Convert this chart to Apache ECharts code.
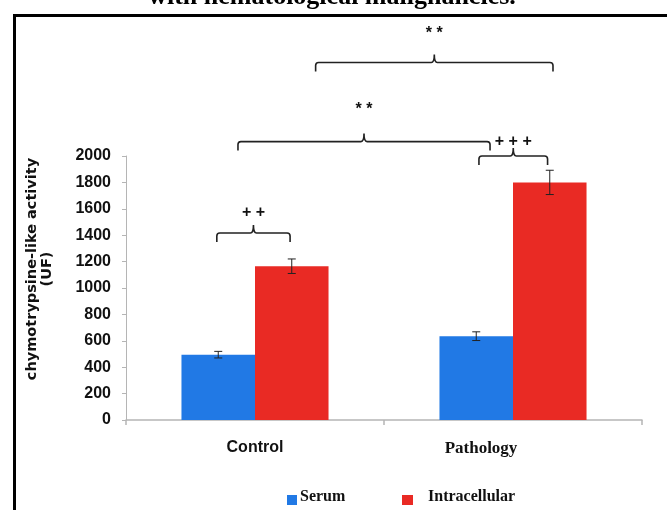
<!DOCTYPE html>
<html>
<head>
<meta charset="utf-8">
<script src="https://cdn.jsdelivr.net/npm/echarts@6/dist/echarts.min.js"></script>
<style>
  html, body { margin: 0; padding: 0; background: #fff; }
  #chart { width: 667px; height: 510px; }
</style>
</head>
<body>
<div id="chart"></div>
<script>
// groups and measured values
const categories = ["Control", "Pathology"];
const serumValues = [495, 635];
const serumErrors = [25, 33];
const intracellularValues = [1165, 1800];
const intracellularErrors = [55, 92];
const yTicks = { min: 0, max: 2000, interval: 200 };

// significance brackets (x in category units, y in activity units)
const bracketStart = [-0.148, 0.868, -0.066, 0.235];
const bracketEnd = [0.136, 1.134, 0.911, 1.155];
const bracketLevel = [1417, 2000, 2109, 2708];
const bracketLabelLevel = [1568, 2106, 2348, 2924];
const bracketMarks = ["+ +", "+ + +", "* *", "* *"];

const BLUE = "#2179e5";
const RED = "#e92a24";
const CAT_GAP = 0.43;

const chart = echarts.init(document.getElementById("chart"), null, { renderer: "canvas" });

function errorBars(values, errors, side) {
  return {
    type: "custom",
    xAxisIndex: 0,
    yAxisIndex: 0,
    silent: true,
    z: 5,
    data: values.map((v, i) => [i, v, errors[i]]),
    renderItem: function (params, api) {
      const catW = api.size([1, 0])[0];
      const barW = catW * (1 - CAT_GAP) / 2;
      const p = api.coord([api.value(0), api.value(1)]);
      const x = p[0] + side * barW / 2;
      const top = api.coord([api.value(0), api.value(1) + api.value(2)])[1];
      const bot = api.coord([api.value(0), api.value(1) - api.value(2)])[1];
      const cap = 4;
      const st = { stroke: "#222", lineWidth: 1 };
      return {
        type: "group",
        children: [
          { type: "line", shape: { x1: x, y1: top, x2: x, y2: bot }, style: st },
          { type: "line", shape: { x1: x - cap, y1: top, x2: x + cap, y2: top }, style: st },
          { type: "line", shape: { x1: x - cap, y1: bot, x2: x + cap, y2: bot }, style: st }
        ]
      };
    }
  };
}

const legendText = {
  fontFamily: "Liberation Serif", fontWeight: "bold", fontSize: 16, color: "#111"
};

const option = {
  animation: false,
  backgroundColor: "#fff",
  grid: { left: 126, right: 25, top: 156, bottom: 90, containLabel: false },
  xAxis: [
    {
      type: "category",
      data: categories,
      axisLine: { lineStyle: { color: "#b5b5b5", width: 1.5 } },
      axisTick: { show: true, length: 5, lineStyle: { color: "#b5b5b5", width: 1.5 } },
      axisLabel: {
        margin: 20,
        formatter: v => v === "Control" ? "{a|" + v + "}" : "{b|" + v + "}",
        rich: {
          a: { fontFamily: "Liberation Sans", fontWeight: "bold", fontSize: 16, color: "#111" },
          b: { fontFamily: "Liberation Serif", fontWeight: "bold", fontSize: 17, color: "#111", padding: [0, 64, 0, 0] }
        }
      }
    },
    { type: "value", min: -0.5, max: 1.5, show: false }
  ],
  yAxis: {
    type: "value",
    min: yTicks.min,
    max: yTicks.max,
    interval: yTicks.interval,
    name: "chymotrypsine-like activity\n(UF)",
    nameLocation: "middle",
    nameRotate: 90,
    nameGap: 71,
    nameTextStyle: {
      fontFamily: "DejaVu Sans", fontWeight: "bold", fontSize: 14.5, color: "#111",
      lineHeight: 15, padding: [0, 0, 0, 38]
    },
    axisLine: { show: true, onZero: false, lineStyle: { color: "#b5b5b5", width: 1 } },
    axisTick: { show: true, length: 4, lineStyle: { color: "#b5b5b5" } },
    splitLine: { show: false },
    axisLabel: {
      margin: 15, fontFamily: "Liberation Sans", fontWeight: "bold", fontSize: 16, color: "#111",
      formatter: v => String(v)
    }
  },
  legend: [
    {
      data: ["Serum"], left: 282, top: 484, icon: "rect", itemWidth: 10, itemHeight: 10, itemGap: 0,
      formatter: n => "{t|" + n + "}",
      textStyle: { rich: { t: Object.assign({ padding: [0, 0, 6, -2] }, legendText) } }
    },
    {
      data: ["Intracellular"], left: 397, top: 484, icon: "rect", itemWidth: 11, itemHeight: 10,
      formatter: n => "{t|" + n + "}",
      textStyle: { rich: { t: Object.assign({ padding: [0, 0, 6, 10] }, legendText) } }
    }
  ],
  series: [
    { name: "Serum", type: "bar", data: serumValues, barGap: "0%", barCategoryGap: (CAT_GAP * 100) + "%", itemStyle: { color: BLUE } },
    { name: "Intracellular", type: "bar", data: intracellularValues, barGap: "0%", barCategoryGap: (CAT_GAP * 100) + "%", itemStyle: { color: RED } },
    errorBars(serumValues, serumErrors, -1),
    errorBars(intracellularValues, intracellularErrors, 1),
    {
      type: "custom",
      xAxisIndex: 1,
      yAxisIndex: 0,
      silent: true,
      clip: false,
      z: 6,
      data: bracketStart.map((s, i) => [s, bracketLevel[i], bracketEnd[i], bracketLabelLevel[i]]),
      encode: { x: 0, y: 1 },
      renderItem: function (params, api) {
        const a = api.coord([api.value(0), api.value(1)]);
        const b = api.coord([api.value(2), api.value(1)]);
        const ly = api.coord([0, api.value(3)])[1];
        const x1 = a[0], x2 = b[0], y = a[1], xm = (x1 + x2) / 2;
        const d = 9, r = 3, pk = 8;
        const path = "M" + x1 + "," + (y + d) + " L" + x1 + "," + (y + r) +
          " Q" + x1 + "," + y + " " + (x1 + r) + "," + y +
          " L" + (xm - 3) + "," + y + " Q" + xm + "," + y + " " + xm + "," + (y - pk) +
          " Q" + xm + "," + y + " " + (xm + 3) + "," + y +
          " L" + (x2 - r) + "," + y + " Q" + x2 + "," + y + " " + x2 + "," + (y + r) +
          " L" + x2 + "," + (y + d);
        const mark = bracketMarks[params.dataIndex];
        return {
          type: "group",
          children: [
            { type: "path", shape: { pathData: path }, style: { stroke: "#222", lineWidth: 1.6, fill: null } },
            {
              type: "text",
              style: {
                text: mark, x: xm, y: ly, align: "center", verticalAlign: "middle",
                font: "bold 16px 'Liberation Sans'", fill: "#111"
              }
            }
          ]
        };
      }
    }
  ],
  graphic: [
    {
      type: "rect", left: 12, top: 13, z: 100, silent: true,
      shape: { width: 700, height: 520 },
      style: { fill: null, stroke: "#000", lineWidth: 3 }
    },
    {
      type: "text", x: 332, y: -3, z: 100, silent: true,
      style: {
        text: "with hematological malignancies.", align: "center", verticalAlign: "middle",
        font: "bold 26px 'Liberation Serif'", fill: "#000"
      }
    }
  ]
};

chart.setOption(option);
</script>
</body>
</html>
